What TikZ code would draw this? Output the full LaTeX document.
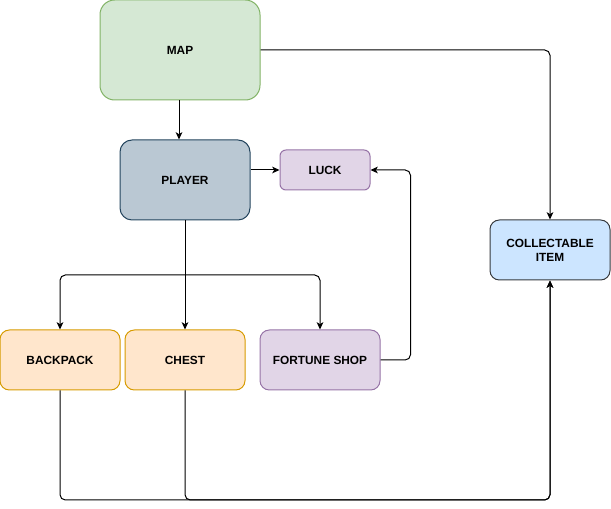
\documentclass[tikz,border=0pt]{standalone}
\usepackage{fontspec}
\setmainfont{Liberation Sans}
\usepackage{xcolor}
\usetikzlibrary{arrows.meta}
\definecolor{gnf}{HTML}{D5E8D4}
\definecolor{gnd}{HTML}{82B366}
\definecolor{blf}{HTML}{BAC8D3}
\definecolor{bld}{HTML}{23445D}
\definecolor{puf}{HTML}{E1D5E7}
\definecolor{pud}{HTML}{9673A6}
\definecolor{skf}{HTML}{CCE5FF}
\definecolor{skd}{HTML}{36393D}
\definecolor{orf}{HTML}{FFE6CC}
\definecolor{ord}{HTML}{D79B00}

\begin{document}
\begin{tikzpicture}[
            x = 0.75pt, y = -0.75pt, % one unit is one pixel
            -{Stealth[length=5.5pt, width=5pt, inset=1.5pt]}, % arrow head style
            rounded corners = 4pt, % bends of the connectors
            line width = 0.75pt % line style
        ]

        \tikzstyle{every box}=[
            draw,
            line width = 0.75pt,
            font = \fontsize{8.9}{10.5}\selectfont\bfseries,
            align = center,
            inner sep = 0pt
        ]
        \tikzstyle{bigbox}=[every box, minimum width = 120pt, minimum height = 75pt, rounded corners = 11pt]
        \tikzstyle{midbox}=[every box, minimum width = 97.5pt, minimum height = 60pt, rounded corners = 9pt]
        \tikzstyle{smallbox}=[every box, minimum width = 90pt, minimum height = 45pt, rounded corners = 7pt]
        \tikzstyle{tinybox}=[every box, minimum width = 67.5pt, minimum height = 30pt, rounded corners = 4.5pt]

        \useasboundingbox (0, 0) rectangle (611, 509);

        \node[bigbox, fill = gnf, draw = gnd] (map) [at={(180, 50)}] {MAP};
        \node[midbox, fill = blf, draw = bld] (player) [at={(185, 180)}] {PLAYER};
        \node[tinybox, fill = puf, draw = pud] (luck) [at={(325, 170)}] {LUCK};
        \node[smallbox, fill = skf, draw = skd] (item) [at={(550, 250)}] {COLLECTABLE\\ITEM};
        \node[smallbox, fill = orf, draw = ord] (backpack) [at={(60, 360)}] {BACKPACK};
        \node[smallbox, fill = orf, draw = ord] (chest) [at={(185, 360)}] {CHEST};
        \node[smallbox, fill = puf, draw = pud] (shop) [at={(320, 360)}] {FORTUNE SHOP};
        \coordinate (split) at (185, 275);
        \coordinate (floor) at (0, 500);

        \path ([xshift=-0.75pt]map.south) edge ([xshift=-0.75pt]map.south |- player.north);
        \path (player.east |- luck.west) edge (luck.west);
        \draw (map.east) -| (item.north);
        \draw[-] (player.south) -- (split);
        \draw (split) -| (backpack.north);
        \draw (split) -- (chest.north);
        \draw (split) -| (shop.north);
        \draw (shop.east) -- ++(30, 0) |- (luck.east);
        \draw (backpack.south) -- (backpack.south |- floor) -| (item.south);
        \draw (chest.south) -- (chest.south |- floor) -| (item.south);
        %\draw (player.south) -- (chest.north);
    \end{tikzpicture}
\end{document}
